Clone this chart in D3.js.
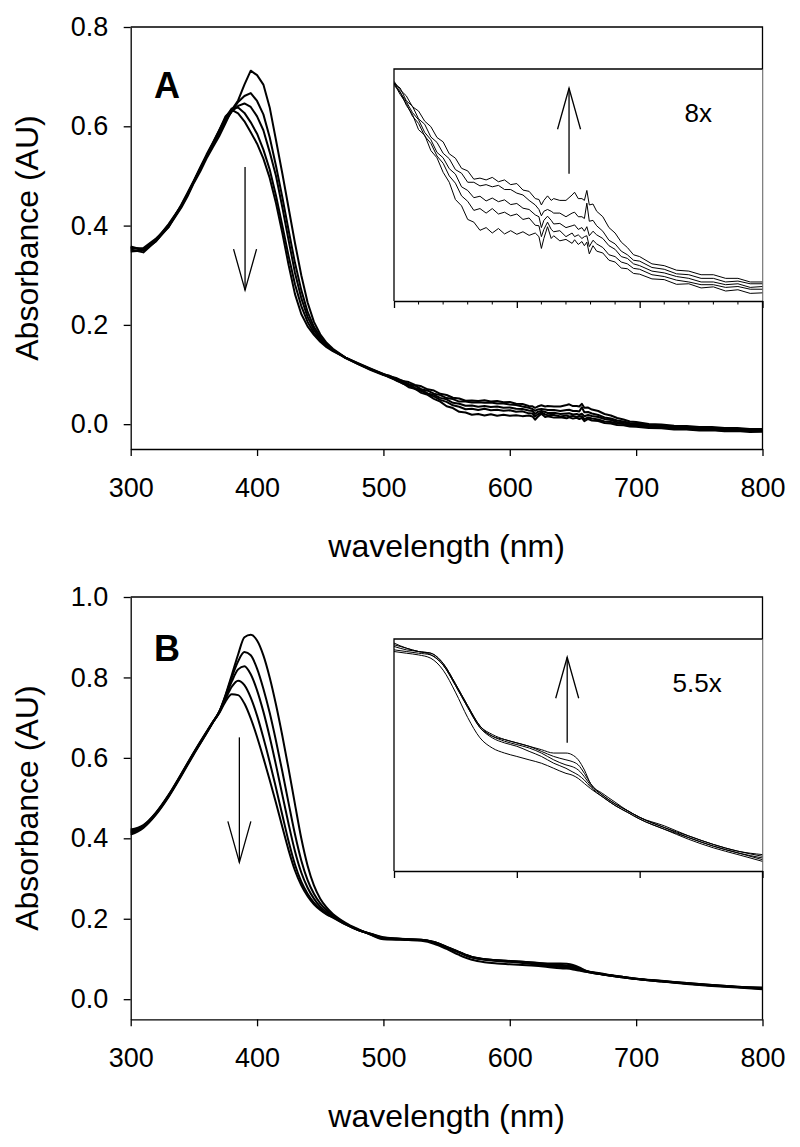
<!DOCTYPE html>
<html><head><meta charset="utf-8">
<script src="https://cdn.jsdelivr.net/npm/d3@7"></script>
<style>body{margin:0;background:#fff} text{font-family:"Liberation Sans",Arial,sans-serif;fill:#000}</style>
</head><body><svg id="c" width="800" height="1147"></svg>
<script>
// ---------- Panel A data (wavelength nm, absorbance AU) ----------
const waveA = [300,310,320,330,
 340,345,350,355,360,365,370,375,380,385,390,395,400,405,410,415,420,425,430,435,440,445,450,455,460,
 470,480,490,
 500,505,510,515,520,525,530,535,540,545,550,555,560,565,570,575,580,585,590,595,600,605,610,615,
 618,620,622,625,628,630,635,640,645,647,650,653,655,657,659,662,665,670,
 675,680,685,690,695,700,
 710,720,730,740,750,760,770,780,790,800];
const absA1 = [0.352,0.346,0.369,0.397,
 0.436,0.459,0.486,0.509,0.535,0.558,0.580,0.606,0.633,0.652,0.684,0.712,0.703,0.684,0.638,0.572,0.505,0.435,0.365,0.300,0.245,0.206,0.181,0.164,0.152,
 0.134,0.121,0.109,
 0.099,0.0955,0.088,0.083,0.0745,0.0715,0.063,0.059,0.051,0.0455,0.036,0.0325,0.025,0.0235,0.019,0.0205,0.0175,0.0200,0.017,0.0188,0.0168,0.0182,0.0162,0.0175,
 0.0155,0.009,0.0145,0.021,0.0145,0.0160,0.0132,0.0140,0.0118,0.0138,0.0112,0.0128,0.0105,0.0125,0.006,0.0105,0.0075,0.0065,
 0.0025,0.0015,-0.0018,-0.0022,-0.0048,-0.0052,
 -0.0078,-0.0082,-0.0108,-0.0105,-0.0128,-0.0122,-0.0145,-0.0138,-0.0158,-0.0155];
const absA2 = [0.356,0.351,0.372,0.401,
 0.440,0.464,0.489,0.515,0.540,0.564,0.588,0.611,0.630,0.649,0.661,0.667,0.651,0.624,0.578,0.520,0.457,0.390,0.325,0.270,0.226,0.196,0.176,0.161,0.150,
 0.133,0.121,0.110,
 0.1000,0.0940,0.0890,0.0820,0.0780,0.0710,0.0670,0.0600,0.0560,0.0490,0.0450,0.0380,0.0350,0.0300,0.0310,0.0285,0.0310,0.0280,0.0290,0.0270,0.0280,0.0250,0.0258,0.0218,
 0.0215,0.0155,0.0195,0.0235,0.0195,0.0182,0.0188,0.0155,0.0175,0.0155,0.0165,0.0145,0.0155,0.0160,0.0100,0.0135,0.0115,0.0095,
 0.0055,0.0045,0.0015,0.0005,-0.0020,-0.0025,
 -0.0055,-0.0065,-0.0085,-0.0095,-0.0110,-0.0110,-0.0125,-0.0120,-0.0135,-0.0135];
const absA3 = [0.348,0.350,0.368,0.399,
 0.438,0.462,0.488,0.513,0.539,0.563,0.587,0.612,0.630,0.641,0.646,0.639,0.620,0.592,0.548,0.500,0.437,0.370,0.305,0.254,0.216,0.190,0.172,0.159,0.149,
 0.134,0.122,0.111,
 0.1005,0.0950,0.0900,0.0840,0.0800,0.0730,0.0690,0.0620,0.0590,0.0530,0.0500,0.0430,0.0410,0.0370,0.0378,0.0352,0.0368,0.0348,0.0358,0.0332,0.0338,0.0312,0.0305,0.0275,
 0.0265,0.0205,0.0245,0.0268,0.0245,0.0225,0.0228,0.0205,0.0215,0.0220,0.0195,0.0205,0.0185,0.0210,0.0160,0.0185,0.0165,0.0145,
 0.0105,0.0085,0.0045,0.0035,0.0005,-0.0005,
 -0.0035,-0.0045,-0.0065,-0.0075,-0.0095,-0.0095,-0.0110,-0.0105,-0.0125,-0.0120];
const absA4 = [0.354,0.355,0.374,0.397,
 0.442,0.466,0.491,0.517,0.543,0.567,0.592,0.617,0.636,0.638,0.627,0.608,0.585,0.553,0.513,0.460,0.400,0.338,0.282,0.238,0.206,0.184,0.169,0.157,0.148,
 0.134,0.122,0.111,
 0.1000,0.0975,0.0905,0.0875,0.0805,0.0775,0.0705,0.0675,0.0615,0.0585,0.0525,0.0505,0.0455,0.0455,0.0435,0.0442,0.0430,0.0438,0.0415,0.0415,0.0395,0.0385,0.0355,0.0330,
 0.0305,0.0270,0.0295,0.0305,0.0295,0.0285,0.0285,0.0265,0.0285,0.0290,0.0265,0.0265,0.0255,0.0340,0.0240,0.0245,0.0215,0.0185,
 0.0135,0.0115,0.0075,0.0055,0.0025,0.0020,
 -0.0015,-0.0025,-0.0050,-0.0055,-0.0075,-0.0075,-0.0095,-0.0090,-0.0105,-0.0105];
const absA5 = [0.358,0.351,0.371,0.403,
 0.440,0.463,0.489,0.515,0.540,0.566,0.591,0.620,0.633,0.626,0.610,0.588,0.565,0.535,0.496,0.445,0.385,0.320,0.262,0.222,0.197,0.180,0.166,0.155,0.147,
 0.134,0.123,0.112,
 0.1012,0.0965,0.0932,0.0872,0.0848,0.0792,0.0762,0.0702,0.0678,0.0612,0.0588,0.0532,0.0518,0.0472,0.0478,0.0468,0.0482,0.0458,0.0468,0.0442,0.0448,0.0412,0.0405,0.0365,
 0.0360,0.0330,0.0355,0.0380,0.0355,0.0365,0.0355,0.0355,0.0385,0.0400,0.0365,0.0365,0.0355,0.0410,0.0330,0.0335,0.0295,0.0265,
 0.0205,0.0175,0.0125,0.0095,0.0055,0.0045,
 0.0005,-0.0005,-0.0030,-0.0035,-0.0055,-0.0055,-0.0075,-0.0075,-0.0095,-0.0095];

// ---------- Panel B data ----------
const waveB = [300,310,320,330,340,350,
 360,365,370,375,380,385,390,395,400,405,410,415,420,425,430,435,440,445,450,455,460,
 470,480,490,
 500,510,520,530,540,550,560,570,580,590,600,610,620,630,640,
 645,650,655,660,
 670,680,690,700,
 720,740,760,780,800];
const absB1 = [0.409,0.426,0.459,0.503,0.555,0.609,
 0.661,0.688,0.714,0.756,0.806,0.857,0.900,0.906,0.892,0.855,0.800,0.732,0.655,0.572,0.485,0.400,0.332,0.283,0.250,0.228,0.212,
 0.190,0.174,0.160,
 0.149,0.148,0.147,0.145,0.138,0.125,0.110,0.098,0.092,0.089,0.087,0.085,0.083,0.080,0.077,
 0.076,0.074,0.071,0.068,
 0.063,0.058,0.054,0.050,
 0.044,0.038,0.033,0.029,0.025];
const absB2 = [0.413,0.428,0.461,0.505,0.557,0.611,
 0.662,0.688,0.714,0.754,0.800,0.840,0.863,0.855,0.822,0.772,0.712,0.642,0.566,0.487,0.410,0.345,0.296,0.262,0.238,0.221,0.209,
 0.188,0.173,0.161,
 0.150,0.149,0.148,0.147,0.141,0.129,0.116,0.104,0.098,0.095,0.093,0.090,0.087,0.083,0.080,
 0.078,0.076,0.073,0.069,
 0.063,0.058,0.054,0.050,
 0.044,0.039,0.034,0.030,0.026];
const absB3 = [0.416,0.430,0.462,0.506,0.558,0.612,
 0.663,0.689,0.714,0.751,0.790,0.820,0.828,0.808,0.768,0.715,0.652,0.582,0.508,0.435,0.368,0.315,0.277,0.250,0.230,0.216,0.206,
 0.187,0.172,0.162,
 0.152,0.150,0.149,0.147,0.141,0.129,0.116,0.104,0.099,0.096,0.094,0.092,0.089,0.085,0.082,
 0.081,0.079,0.075,0.070,
 0.064,0.059,0.055,0.051,
 0.045,0.039,0.034,0.030,0.027];
const absB4 = [0.419,0.431,0.463,0.507,0.559,0.613,
 0.664,0.689,0.713,0.746,0.777,0.792,0.781,0.750,0.705,0.650,0.590,0.525,0.458,0.392,0.335,0.292,0.262,0.240,0.224,0.212,0.204,
 0.186,0.172,0.162,
 0.153,0.151,0.149,0.148,0.142,0.130,0.117,0.105,0.099,0.097,0.095,0.093,0.090,0.087,0.085,
 0.084,0.082,0.077,0.071,
 0.064,0.059,0.055,0.051,
 0.045,0.040,0.035,0.031,0.028];
const absB5 = [0.422,0.433,0.464,0.508,0.560,0.614,
 0.665,0.689,0.711,0.740,0.758,0.756,0.735,0.698,0.652,0.600,0.545,0.488,0.428,0.370,0.320,0.283,0.256,0.236,0.222,0.211,0.203,
 0.186,0.172,0.163,
 0.154,0.151,0.149,0.148,0.142,0.130,0.117,0.105,0.100,0.097,0.095,0.093,0.091,0.089,0.089,
 0.088,0.085,0.079,0.071,
 0.065,0.060,0.055,0.051,
 0.046,0.040,0.035,0.031,0.029];

// ---------- ticks, labels, annotations ----------
const xTicks = [300,400,500,600,700,800];
const yTicksA = [0.0,0.2,0.4,0.6,0.8];
const yTicksB = [0.0,0.2,0.4,0.6,0.8,1.0];
const insetTicks = [500,600,700,800];
const insetMinorA = [520,540,560,580,620,640,660,680,720,740,760,780];
const xTitle = "wavelength (nm)";
const yTitle = "Absorbance (AU)";

const svg = d3.select("#c");
const FONT = '"Liberation Sans", Arial, sans-serif';

function arrow(g, x, y0, y1) {
  const dir = y1 > y0 ? 1 : -1;
  g.append("line").attr("x1", x).attr("x2", x).attr("y1", y0).attr("y2", y1)
    .attr("stroke", "#000").attr("stroke-width", 1.3);
  g.append("path").attr("d", `M${x-11.5},${y1-dir*41}L${x},${y1}L${x+11.5},${y1-dir*41}`)
    .attr("fill", "none").attr("stroke", "#000").attr("stroke-width", 1.3);
}

function panel(cfg) {
  const g = svg.append("g");
  const x = d3.scaleLinear().domain([300, 800]).range([130.7, 762.5]);
  const y = d3.scaleLinear().domain(cfg.yDomain).range([cfg.bottom, cfg.top]);
  const lw = 1.3;

  g.append("path").attr("d", `M${x.range()[0]},${cfg.top}H${x.range()[1]}V${cfg.bottom}`)
    .attr("fill", "none").attr("stroke", "#000").attr("stroke-width", lw);

  const xa = g.append("g").attr("transform", `translate(0,${cfg.bottom})`)
    .call(d3.axisBottom(x).tickValues(xTicks).tickSize(7).tickSizeOuter(0).tickPadding(22).tickFormat(d3.format("d")));
  const ya = g.append("g").attr("transform", `translate(${x.range()[0]},0)`)
    .call(d3.axisLeft(y).tickValues(cfg.yTicks).tickSize(7).tickSizeOuter(0).tickPadding(15.5).tickFormat(d3.format(".1f")));
  [xa, ya].forEach(a => {
    a.selectAll("path,line").attr("stroke", "#000").attr("stroke-width", lw);
    a.selectAll("text").attr("font-size", 27).attr("font-family", FONT).attr("fill", "#000");
  });

  g.append("text").attr("x", (x.range()[0] + x.range()[1]) / 2).attr("y", cfg.bottom + 108)
    .attr("text-anchor", "middle").attr("font-size", 32).text(xTitle);
  g.append("text").attr("transform", `translate(38,${(cfg.top + cfg.bottom) / 2}) rotate(-90)`)
    .attr("text-anchor", "middle").attr("font-size", 32).text(yTitle);
  g.append("text").attr("x", 154).attr("y", cfg.labelY).attr("font-size", 36)
    .attr("font-weight", "bold").text(cfg.label);

  const line = d3.line().x(d => x(d[0])).y(d => y(d[1])).curve(cfg.curve);
  cfg.series.forEach(s => {
    g.append("path").datum(cfg.wave.map((w, i) => [w, s[i]]))
      .attr("d", line).attr("fill", "none").attr("stroke", "#000")
      .attr("stroke-width", 2).attr("stroke-linejoin", "round");
  });
  arrow(g, x(cfg.arrow[0]), y(cfg.arrow[1]), y(cfg.arrow[2]));

  // inset
  const ix = d3.scaleLinear().domain([500, 800]).range([394, 762.5]);
  const iy = d3.scaleLinear().domain(cfg.insetY).range([cfg.insetBottom, cfg.insetTop]);
  const ig = svg.append("g");
  const cid = "clip" + cfg.label;
  ig.append("clipPath").attr("id", cid).append("rect")
    .attr("x", 394).attr("y", cfg.insetTop).attr("width", 762.5 - 394).attr("height", cfg.insetBottom - cfg.insetTop);
  ig.append("rect").attr("x", 394).attr("y", cfg.insetTop).attr("width", 762.5 - 394)
    .attr("height", cfg.insetBottom - cfg.insetTop).attr("fill", "#fff");
  ig.append("path").attr("d", `M394,${cfg.insetBottom}V${cfg.insetTop}H762.5`)
    .attr("fill", "none").attr("stroke", "#000").attr("stroke-width", lw);
  const ia = ig.append("g").attr("transform", `translate(0,${cfg.insetBottom})`)
    .call(d3.axisBottom(ix).tickValues(insetTicks).tickSize(7).tickSizeOuter(0).tickFormat(""));
  ia.selectAll("path,line").attr("stroke", "#000").attr("stroke-width", lw);
  if (cfg.minor) {
    ig.selectAll(".mn").data(cfg.minor).enter().append("line")
      .attr("x1", d => ix(d)).attr("x2", d => ix(d))
      .attr("y1", cfg.insetBottom).attr("y2", cfg.insetBottom + 3.5)
      .attr("stroke", "#000").attr("stroke-width", 1);
  }
  const iline = d3.line().x(d => ix(d[0])).y(d => iy(d[1])).curve(cfg.curve);
  const cg = ig.append("g").attr("clip-path", `url(#${cid})`);
  cfg.series.forEach(s => {
    const pts = cfg.wave.map((w, i) => [w, s[i]]).filter(d => d[0] >= 500);
    cg.append("path").datum(pts).attr("d", iline).attr("fill", "none")
      .attr("stroke", "#000").attr("stroke-width", 1).attr("stroke-linejoin", "round");
  });
  arrow(ig, ix(cfg.insetArrow[0]), iy(cfg.insetArrow[1]), iy(cfg.insetArrow[2]));
  ig.append("text").attr("x", ix(cfg.mag[0])).attr("y", iy(cfg.mag[1]))
    .attr("font-size", 26).text(cfg.mag[2]);
}

panel({
  label: "A", labelY: 98, top: 27, bottom: 449, yDomain: [-0.05, 0.8], yTicks: yTicksA,
  wave: waveA, series: [absA1, absA2, absA3, absA4, absA5], curve: d3.curveLinear,
  arrow: [390.5, 0.518, 0.27],
  insetTop: 69, insetBottom: 301, insetY: [-0.020, 0.108], minor: insetMinorA,
  insetArrow: [642.5, 0.0502, 0.0974], mag: [736.6, 0.0786, "8x"]
});
panel({
  label: "B", labelY: 661, top: 597, bottom: 1019.3, yDomain: [-0.05, 1.0], yTicks: yTicksB,
  wave: waveB, series: [absB1, absB2, absB3, absB4, absB5], curve: d3.curveMonotoneX,
  arrow: [386, 0.651, 0.34],
  insetTop: 639, insetBottom: 871, insetY: [0.0193, 0.1564], minor: null,
  insetArrow: [641, 0.0951, 0.1456], mag: [726.8, 0.1252, "5.5x"]
});
</script>
</body></html>
